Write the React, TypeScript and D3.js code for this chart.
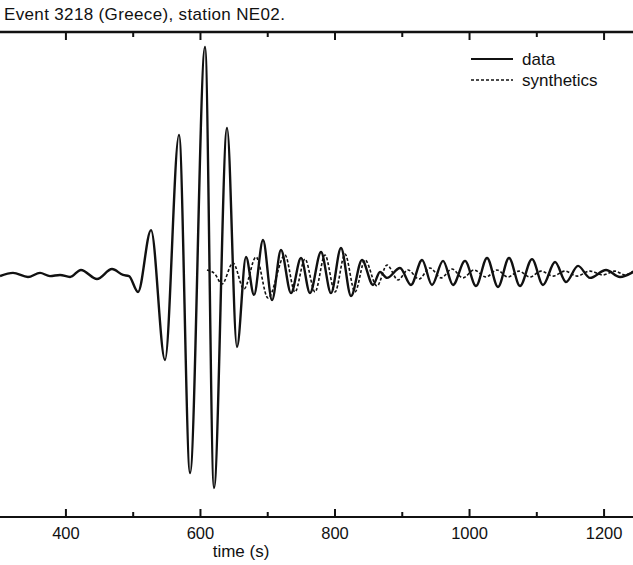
import React, { useEffect, useRef } from 'react';
import * as d3 from 'd3';

const dataTime = [
  302, 321.3, 343.6, 361.5, 376.3, 391.2, 406.1, 422.4, 446.2, 468.5, 484.9, 493.8,
  507.2, 526.5, 547.3, 568.1, 584.5, 606.8, 620.1, 639.5, 654.3, 667.7, 679.6, 693.0,
  706.4, 719.7, 734.6, 749.5, 762.8, 779.2, 794.1, 808.9, 823.8, 840.1, 856.5, 866.9,
  877.3, 896.6, 913.0, 929.4, 944.2, 960.6, 975.4, 993.3, 1009.6, 1026.0, 1042.3, 1058.7,
  1075.0, 1092.9, 1109.2, 1127.1, 1143.4, 1161.3, 1179.1, 1202.9, 1223.7, 1243.0,
];
const dataAmp = [
  -0.007, 0.007, -0.011, 0.007, -0.007, -0.002, -0.011, 0.02, -0.02, 0.024, -0.002, -0.007,
  -0.077, 0.196, -0.377, 0.616, -0.876, 1.004, -0.942, 0.647, -0.32, 0.077, -0.09, 0.152,
  -0.113, 0.108, -0.082, 0.073, -0.082, 0.099, -0.082, 0.117, -0.095, 0.064, -0.046, 0.011,
  -0.015, 0.029, -0.046, 0.064, -0.046, 0.06, -0.046, 0.06, -0.051, 0.073, -0.055, 0.073,
  -0.051, 0.068, -0.046, 0.055, -0.033, 0.038, -0.015, 0.02, -0.011, 0.011,
];

// synthetic seismogram
const synthTime = [
  609.7, 621.6, 632.0, 648.4, 664.7, 682.6, 700.4, 725.7, 740.5, 755.4, 770.3, 785.1,
  800.0, 814.9, 829.7, 844.6, 862.4, 877.3, 893.7, 908.5, 924.9, 941.2, 957.6, 974.0,
  990.3, 1006.6, 1024.5, 1040.8, 1057.2, 1073.5, 1089.9, 1106.2, 1124.1, 1141.9, 1159.8,
  1179.1, 1198.3, 1216.2, 1231.0, 1243.0,
];
const synthAmp = [
  0.02, 0.002, -0.042, 0.051, -0.064, 0.077, -0.104, 0.086, -0.077, 0.068, -0.077, 0.086,
  -0.077, 0.09, -0.077, 0.064, -0.051, 0.042, -0.024, 0.02, -0.02, 0.029, -0.015, 0.024,
  -0.015, 0.02, -0.011, 0.02, -0.011, 0.015, -0.011, 0.015, -0.007, 0.015, -0.007,
  0.015, -0.002, 0.015, -0.002, 0.015,
];

const majorTicks = [400, 600, 800, 1000, 1200];
const minorTicks = [500, 700, 900, 1100];
const legendLabels = ['data', 'synthetics'];

const FONT = '"Liberation Sans", Arial, Helvetica, sans-serif';

const App = () => {
  const svgRef = useRef(null);

  useEffect(() => {
    document.body.style.margin = '0';
    const W = 633;
    const H = 565;
    const top = 32;
    const bottom = 517;

    const svg = d3.select(svgRef.current).attr('width', W).attr('height', H);
    svg.selectAll('*').remove();

    const x = d3.scaleLinear().domain([302, 1243]).range([0, W]);
    const y = d3.scaleLinear().domain([-1.07, 1.07]).range([bottom, top]);

    svg.append('rect').attr('width', W).attr('height', H).attr('fill', '#fff');

    // title
    svg
      .append('text')
      .attr('x', 4)
      .attr('y', 20)
      .style('font-family', FONT)
      .style('font-size', '17px')
      .style('letter-spacing', '0.35px')
      .attr('fill', '#111')
      .text('Event 3218 (Greece), station NE02.');

    // frame lines (top and bottom)
    [top, bottom].forEach((yy, i) => {
      svg
        .append('line')
        .attr('x1', 0)
        .attr('x2', W)
        .attr('y1', yy)
        .attr('y2', yy)
        .attr('stroke', '#111')
        .attr('stroke-width', i === 0 ? 2.5 : 2.2);
    });

    // inward ticks
    const tickG = svg.append('g').attr('stroke', '#111').attr('stroke-width', 2);
    majorTicks.forEach((t) => {
      tickG.append('line').attr('x1', x(t)).attr('x2', x(t)).attr('y1', top).attr('y2', top + 8);
      tickG.append('line').attr('x1', x(t)).attr('x2', x(t)).attr('y1', bottom).attr('y2', bottom - 8);
    });
    minorTicks.forEach((t) => {
      tickG.append('line').attr('x1', x(t)).attr('x2', x(t)).attr('y1', top).attr('y2', top + 5);
      tickG.append('line').attr('x1', x(t)).attr('x2', x(t)).attr('y1', bottom).attr('y2', bottom - 5);
    });

    svg
      .selectAll('.tick-label')
      .data(majorTicks)
      .enter()
      .append('text')
      .attr('class', 'tick-label')
      .attr('x', (d) => x(d))
      .attr('y', 539)
      .attr('text-anchor', 'middle')
      .style('font-family', FONT)
      .style('font-size', '16.5px')
      .attr('fill', '#111')
      .text((d) => d);

    svg
      .append('text')
      .attr('x', 241)
      .attr('y', 557)
      .attr('text-anchor', 'middle')
      .style('font-family', FONT)
      .style('font-size', '17px')
      .attr('fill', '#111')
      .text('time (s)');

    const line = d3
      .line()
      .x((d) => x(d[0]))
      .y((d) => y(d[1]))
      .curve(d3.curveMonotoneX);

    const synth = synthTime.map((t, i) => [t, synthAmp[i]]);
    const obs = dataTime.map((t, i) => [t, dataAmp[i]]);

    svg
      .append('path')
      .attr('d', line(synth))
      .attr('fill', 'none')
      .attr('stroke', '#111')
      .attr('stroke-width', 1.6)
      .attr('stroke-dasharray', '3,2');

    svg
      .append('path')
      .attr('d', line(obs))
      .attr('fill', 'none')
      .attr('stroke', '#111')
      .attr('stroke-width', 2.4)
      .attr('stroke-linejoin', 'round');

    // legend
    const legend = svg.append('g').attr('transform', 'translate(471, 59)');
    legendLabels.forEach((label, i) => {
      legend
        .append('line')
        .attr('x1', 0)
        .attr('x2', 42)
        .attr('y1', i * 21)
        .attr('y2', i * 21)
        .attr('stroke', '#111')
        .attr('stroke-width', i === 0 ? 1.8 : 1.4)
        .attr('stroke-dasharray', i === 0 ? null : '3,2');
      legend
        .append('text')
        .attr('x', 51)
        .attr('y', i * 21 + 6)
        .style('font-family', FONT)
        .style('font-size', '17px')
        .attr('fill', '#111')
        .text(label);
    });
  }, []);

  return (
    <svg ref={svgRef} style={{ display: 'block' }}></svg>
  );
};

export default App;
